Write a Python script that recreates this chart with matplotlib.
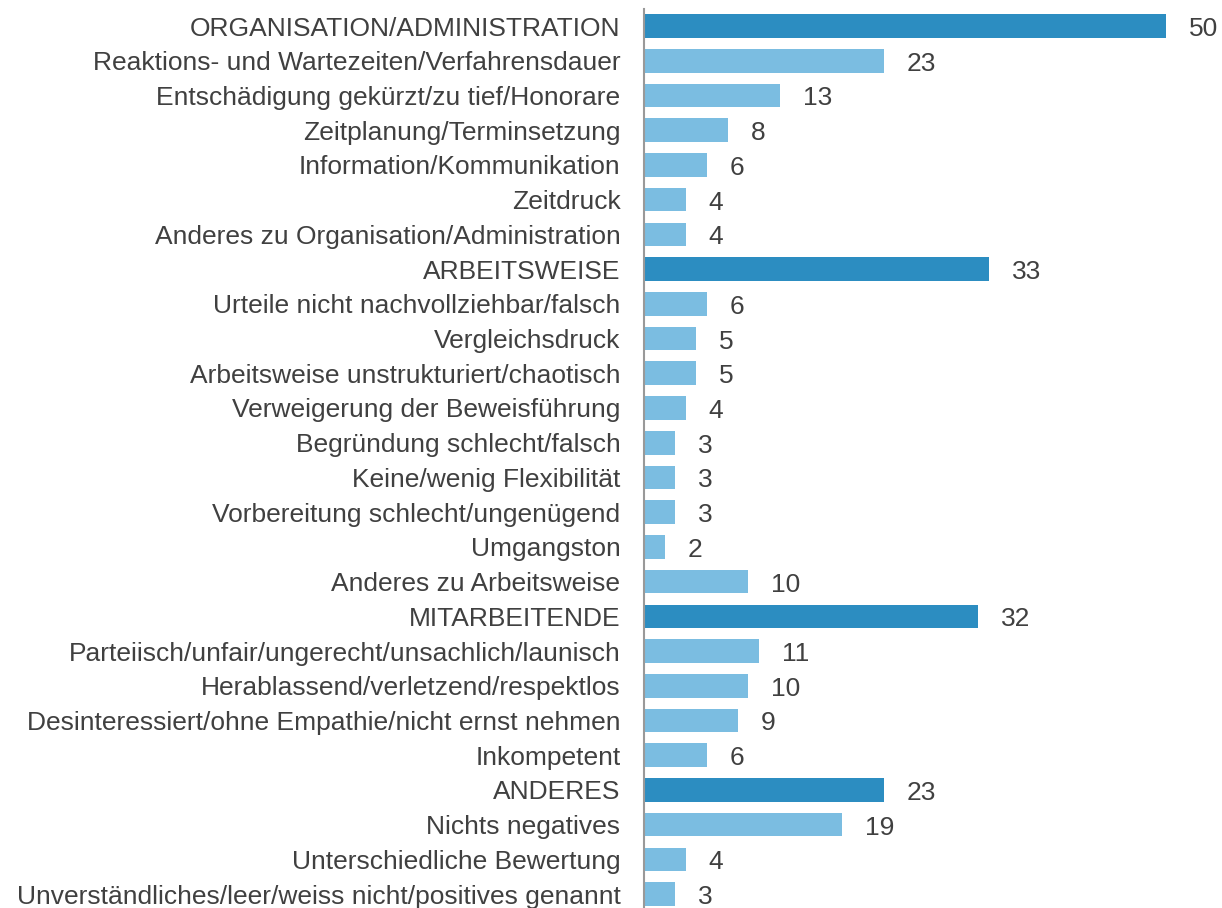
import matplotlib.pyplot as plt
from matplotlib.transforms import offset_copy

plt.rcParams['font.family'] = ['Liberation Sans', 'DejaVu Sans']

categories = [
    'ORGANISATION/ADMINISTRATION',
    'Reaktions- und Wartezeiten/Verfahrensdauer',
    'Entschädigung gekürzt/zu tief/Honorare',
    'Zeitplanung/Terminsetzung',
    'Information/Kommunikation',
    'Zeitdruck',
    'Anderes zu Organisation/Administration',
    'ARBEITSWEISE',
    'Urteile nicht nachvollziehbar/falsch',
    'Vergleichsdruck',
    'Arbeitsweise unstrukturiert/chaotisch',
    'Verweigerung der Beweisführung',
    'Begründung schlecht/falsch',
    'Keine/wenig Flexibilität',
    'Vorbereitung schlecht/ungenügend',
    'Umgangston',
    'Anderes zu Arbeitsweise',
    'MITARBEITENDE',
    'Parteiisch/unfair/ungerecht/unsachlich/launisch',
    'Herablassend/verletzend/respektlos',
    'Desinteressiert/ohne Empathie/nicht ernst nehmen',
    'Inkompetent',
    'ANDERES',
    'Nichts negatives',
    'Unterschiedliche Bewertung',
    'Unverständliches/leer/weiss nicht/positives genannt',
]
values = [50, 23, 13, 8, 6, 4, 4,
          33, 6, 5, 5, 4, 3, 3, 3, 2, 10,
          32, 11, 10, 9, 6,
          23, 19, 4, 3]
is_group = [c.isupper() for c in categories]

DARK = '#2C8DC1'
LIGHT = '#7BBDE1'
TEXT = '#404040'
FS = 19

fig = plt.figure(figsize=(12.22, 9.08), dpi=100)
ax = fig.add_axes([644 / 1222, 0, 578 / 1222, 899 / 908])

y = list(range(len(categories)))
colors = [DARK if g else LIGHT for g in is_group]
ax.barh(y, values, height=0.68, color=colors, edgecolor='none')

# value labels right of each bar, sitting a touch below the bar centre
for yi, v in zip(y, values):
    trans = offset_copy(ax.transData, fig=fig, x=23, y=-3, units='dots')
    ax.text(v, yi, str(v), transform=trans, ha='left', va='center',
            fontsize=FS, color=TEXT)

ax.set_xlim(0, 578 / 10.44)
ax.set_ylim(25.4, -0.49)
ax.set_yticks(y)
ax.set_yticklabels(categories, fontsize=FS, color=TEXT)
ax.tick_params(axis='y', length=0, pad=17)
ax.set_xticks([])
for s in ['top', 'right', 'bottom']:
    ax.spines[s].set_visible(False)
ax.spines['left'].set_color('#999999')
ax.spines['left'].set_linewidth(1.5)

fig.savefig('out.png', dpi=100)
